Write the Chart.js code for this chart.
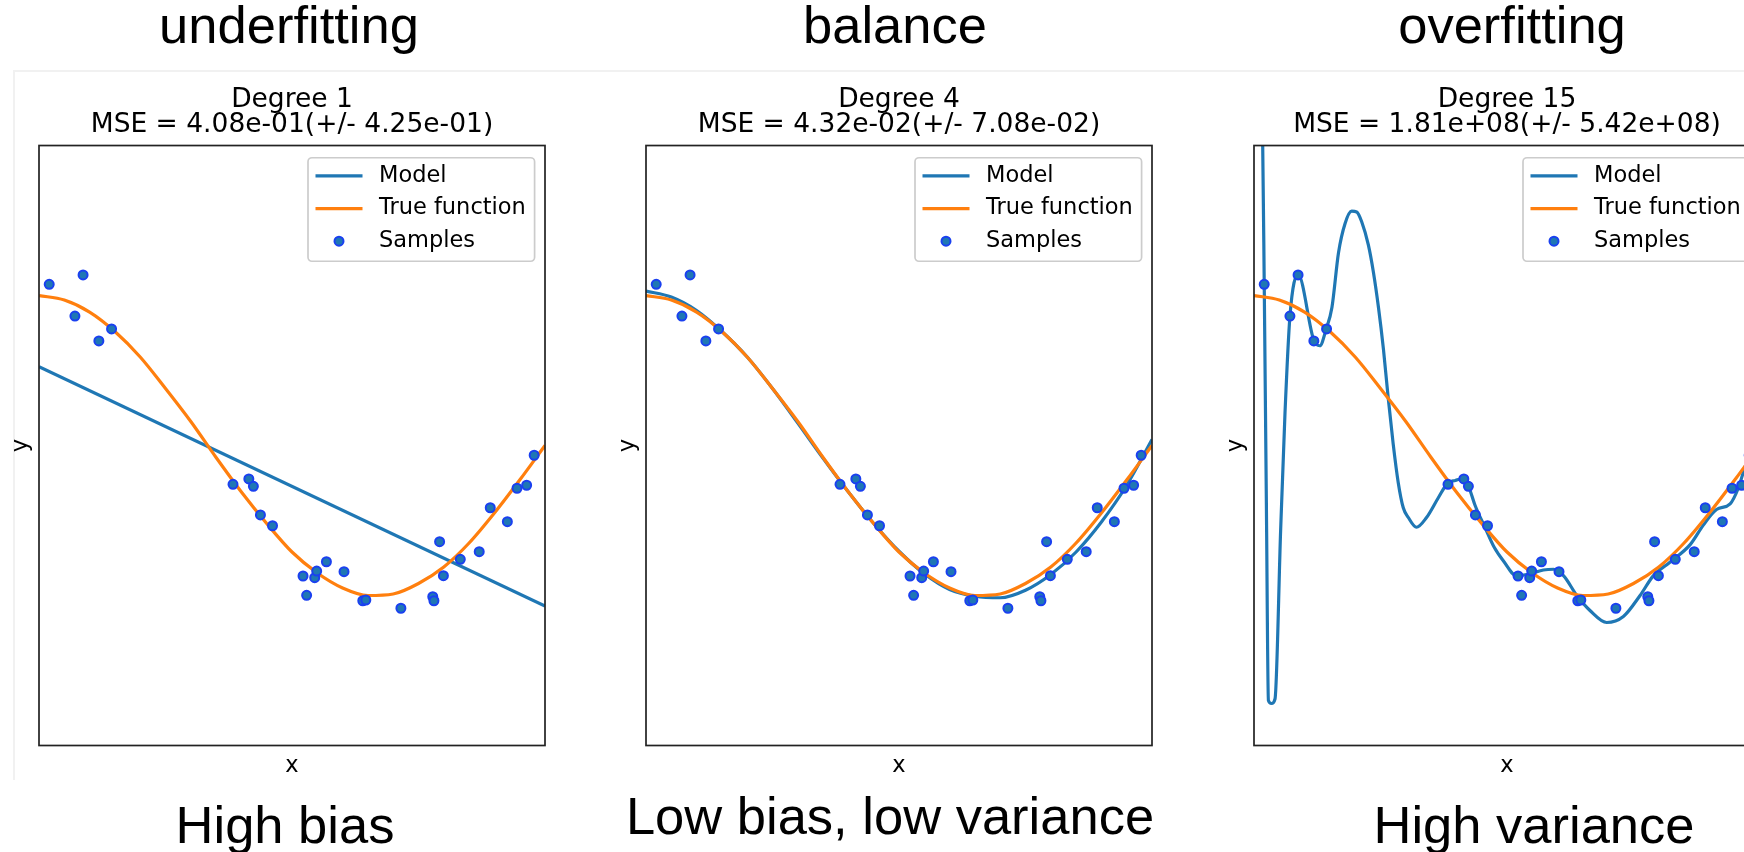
<!DOCTYPE html>
<html>
<head>
<meta charset="utf-8">
<script src="https://cdn.jsdelivr.net/npm/chart.js@4.4.1/dist/chart.umd.min.js"></script>
<style>
html, body { margin: 0; padding: 0; background: #fff; width: 1744px; height: 852px; overflow: hidden; }
body { position: relative; }
.big { position: absolute; font-family: 'Liberation Sans', Arial, sans-serif; font-size: 52.5px; line-height: 52px; white-space: nowrap; transform: translateX(-50%); color: #000; }
canvas { position: absolute; top: 70px; }
#frame { position: absolute; left: 13px; top: 70px; width: 1740px; height: 708px; border-top: 2px solid #f1f1f1; border-left: 2px solid #f1f1f1; }
</style>
</head>
<body>
<div id="frame"></div>
<canvas id="c0" width="584" height="730" style="left:0px"></canvas>
<canvas id="c1" width="584" height="730" style="left:607px"></canvas>
<canvas id="c2" width="584" height="730" style="left:1215px"></canvas>
<script>
// samples (same in all three panels)
const sampleX = [0.0202, 0.0710, 0.0871, 0.1183, 0.1434, 0.3834, 0.4147, 0.4237, 0.4376, 0.4615,
  0.5218, 0.5289, 0.5449, 0.5488, 0.5680, 0.6028, 0.6399, 0.6459, 0.7152, 0.7782,
  0.7805, 0.7917, 0.7992, 0.8326, 0.8700, 0.8918, 0.9256, 0.9447, 0.9637, 0.9786];
const sampleY = [1.075, 0.863, 1.137, 0.697, 0.777, -0.259, -0.223, -0.272, -0.463, -0.535,
  -0.870, -0.999, -0.881, -0.837, -0.775, -0.841, -1.035, -1.030, -1.085, -1.008,
  -1.035, -0.641, -0.868, -0.759, -0.708, -0.415, -0.508, -0.285, -0.265, -0.065];

// true function
const gridX = [0, 0.05, 0.1, 0.15, 0.2, 0.25, 0.3, 0.35, 0.4, 0.45, 0.5,
  0.55, 0.6, 0.65, 0.7, 0.75, 0.8, 0.85, 0.9, 0.95, 1.0];
const trueY = [1.0, 0.97, 0.89, 0.76, 0.59, 0.38, 0.16, -0.08, -0.31, -0.52, -0.71,
  -0.85, -0.95, -1.0, -0.99, -0.92, -0.81, -0.65, -0.45, -0.23, 0.0];

// models
const model1X = [0, 1];
const model1Y = [0.525, -1.07];
const model4Y = [1.03, 0.99, 0.90, 0.76, 0.59, 0.38, 0.15, -0.085, -0.31, -0.52, -0.705,
  -0.855, -0.96, -1.005, -1.015, -0.965, -0.86, -0.71, -0.51, -0.265, 0.04];
const model15X = [0, 0.0172, 0.0202, 0.0245, 0.0285, 0.0345, 0.0415, 0.0527, 0.0613, 0.071,
  0.0871, 0.1183, 0.130, 0.143, 0.154, 0.167, 0.180, 0.193, 0.203, 0.213,
  0.226, 0.236, 0.246, 0.256, 0.265, 0.275, 0.285, 0.295, 0.305, 0.321,
  0.341, 0.364, 0.383, 0.398, 0.414, 0.424, 0.437, 0.457, 0.475, 0.493,
  0.519, 0.545, 0.572, 0.592, 0.612, 0.638, 0.664, 0.697, 0.730, 0.763,
  0.789, 0.822, 0.862, 0.888, 0.914, 0.941, 0.957, 0.968, 1.0];
const model15Y = [3.2, 2.0, 1.08, -0.4, -1.70, -1.72, -1.69, -0.56, 0.22, 0.86,
  1.14, 0.70, 0.665, 0.78, 0.92, 1.285, 1.48, 1.562, 1.557, 1.49,
  1.337, 1.155, 0.92, 0.636, 0.325, 0.013, -0.246, -0.415, -0.48, -0.545,
  -0.48, -0.35, -0.25, -0.233, -0.22, -0.272, -0.40, -0.55, -0.68, -0.77,
  -0.869, -0.856, -0.83, -0.825, -0.869, -1.0, -1.10, -1.18, -1.14, -1.0,
  -0.869, -0.778, -0.661, -0.531, -0.427, -0.389, -0.285, -0.168, 0.15];

const degrees = [1, 4, 15];
const mseText = ['4.08e-01(+/- 4.25e-01)', '4.32e-02(+/- 7.08e-02)', '1.81e+08(+/- 5.42e+08)'];
const topLabels = ['underfitting', 'balance', 'overfitting'];
const bottomLabels = ['High bias', 'Low bias, low variance', 'High variance'];

const models = [
  [model1X, model1Y],
  [gridX, model4Y],
  [model15X, model15Y]
];

function pts(xs, ys) {
  return xs.map((x, i) => ({ x: x, y: ys[i] }));
}

// page labels above / below each panel
const topPos = [[289, -0.7], [895, -0.7], [1512, -0.7]];
const botPos = [[285, 798.8], [890, 789.8], [1534, 798.8]];
function addLabel(text, p) {
  const d = document.createElement('div');
  d.className = 'big';
  d.textContent = text;
  d.style.left = p[0] + 'px';
  d.style.top = p[1] + 'px';
  document.body.appendChild(d);
}
topLabels.forEach((t, i) => addLabel(t, topPos[i]));
bottomLabels.forEach((t, i) => addLabel(t, botPos[i]));

Chart.defaults.font.family = 'DejaVu Sans';
Chart.defaults.color = '#000';

// full box around the plot area, like matplotlib spines
const spines = {
  id: 'spines',
  afterDatasetsDraw(chart) {
    const { ctx, chartArea: a } = chart;
    ctx.save();
    ctx.strokeStyle = '#222';
    ctx.lineWidth = 1.7;
    ctx.strokeRect(a.left, a.top, a.right - a.left, a.bottom - a.top);
    ctx.restore();
  }
};

// matplotlib style legend in the upper right
const mplLegend = {
  id: 'mplLegend',
  afterDraw(chart) {
    const { ctx, chartArea: a } = chart;
    const w = 226.6, h = 103.5;
    const x0 = a.right - 10.4 - w, y0 = a.top + 12.2;
    ctx.save();
    ctx.beginPath();
    const r = 4;
    ctx.moveTo(x0 + r, y0);
    ctx.arcTo(x0 + w, y0, x0 + w, y0 + h, r);
    ctx.arcTo(x0 + w, y0 + h, x0, y0 + h, r);
    ctx.arcTo(x0, y0 + h, x0, y0, r);
    ctx.arcTo(x0, y0, x0 + w, y0, r);
    ctx.closePath();
    ctx.fillStyle = 'rgba(255,255,255,0.8)';
    ctx.fill();
    ctx.strokeStyle = '#cccccc';
    ctx.lineWidth = 1.7;
    ctx.stroke();
    ctx.font = '22.5px "DejaVu Sans"';
    ctx.textBaseline = 'middle';
    ctx.textAlign = 'left';
    chart.data.datasets.forEach((ds, i) => {
      const cy = y0 + 18.1 + i * 32.7;
      if (ds.showLine === false) {
        ctx.beginPath();
        ctx.arc(x0 + 31, cy, ds.pointRadius, 0, Math.PI * 2);
        ctx.fillStyle = ds.pointBackgroundColor;
        ctx.fill();
        ctx.lineWidth = ds.pointBorderWidth;
        ctx.strokeStyle = ds.pointBorderColor;
        ctx.stroke();
      } else {
        ctx.beginPath();
        ctx.moveTo(x0 + 7.5, cy);
        ctx.lineTo(x0 + 54.5, cy);
        ctx.lineWidth = ds.borderWidth;
        ctx.strokeStyle = ds.borderColor;
        ctx.stroke();
      }
      ctx.fillStyle = '#000';
      ctx.fillText(ds.label, x0 + 71, cy);
    });
    ctx.restore();
  }
};

degrees.forEach((deg, i) => {
  new Chart(document.getElementById('c' + i), {
    type: 'line',
    data: {
      datasets: [{
        label: 'Model',
        data: pts(models[i][0], models[i][1]),
        borderColor: '#1f77b4',
        borderWidth: 3.2,
        pointRadius: 0,
        cubicInterpolationMode: 'monotone',
        order: 3
      }, {
        label: 'True function',
        data: pts(gridX, trueY),
        borderColor: '#ff7f0e',
        borderWidth: 3.2,
        pointRadius: 0,
        cubicInterpolationMode: 'monotone',
        order: 2
      }, {
        label: 'Samples',
        data: pts(sampleX, sampleY),
        showLine: false,
        pointRadius: 4.5,
        pointBackgroundColor: '#1f77b4',
        pointBorderColor: '#1a40f0',
        pointBorderWidth: 2,
        order: 1
      }]
    },
    options: {
      responsive: false,
      animation: false,
      devicePixelRatio: 1,
      layout: { padding: 0 },
      plugins: {
        legend: { display: false },
        tooltip: { enabled: false },
        title: {
          display: true,
          text: ['Degree ' + deg, 'MSE = ' + mseText[i]],
          font: { size: 26.5, weight: 'normal', lineHeight: 0.925 },
          color: '#000',
          padding: { top: 18, bottom: 8.5 }
        }
      },
      scales: {
        x: {
          type: 'linear', min: 0, max: 1,
          ticks: { display: false },
          grid: { display: false, drawTicks: false },
          border: { display: false },
          title: { display: true, text: 'x', font: { size: 22.5, lineHeight: 1 }, color: '#000', padding: { top: 0, bottom: 22.75 } },
          afterFit: (s) => { s.height = 54.5; }
        },
        y: {
          type: 'linear', min: -2, max: 2,
          ticks: { display: false },
          grid: { display: false, drawTicks: false },
          border: { display: false },
          title: { display: true, text: 'y', font: { size: 22.5, lineHeight: 1 }, color: '#000', padding: { top: 10.3, bottom: 0 } },
          afterFit: (s) => { s.width = 39; }
        },
        // empty right-hand margin so the title centres over the axes
        y2: {
          type: 'linear', position: 'right', min: -2, max: 2,
          ticks: { display: false },
          grid: { display: false, drawTicks: false },
          border: { display: false },
          afterFit: (s) => { s.width = 39; }
        }
      }
    },
    plugins: [spines, mplLegend]
  });
});
</script>
</body>
</html>
